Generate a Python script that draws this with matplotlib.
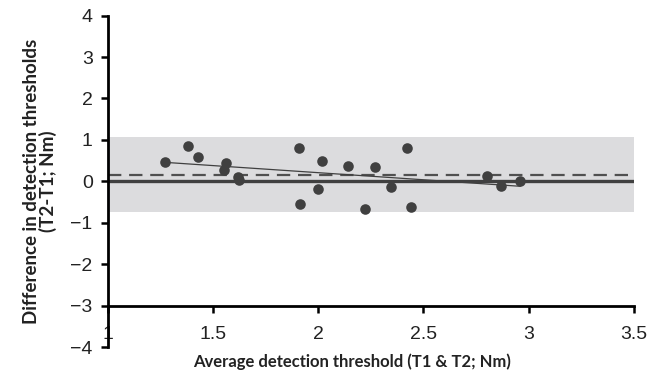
import numpy as np
import matplotlib
matplotlib.use("Agg")
import matplotlib.pyplot as plt

# Bland-Altman data
avg_threshold = [1.27, 1.38, 1.43, 1.55, 1.56, 1.62, 1.625, 1.91, 1.915, 2.0, 2.02,
                 2.14, 2.22, 2.27, 2.345, 2.42, 2.44, 2.80, 2.87, 2.96]
diff_threshold = [0.46, 0.85, 0.58, 0.27, 0.44, 0.10, 0.03, 0.80, -0.55, -0.18, 0.48,
                  0.37, -0.66, 0.35, -0.14, 0.81, -0.63, 0.13, -0.12, 0.0]

mean_diff = 0.16
upper_loa = 1.06
lower_loa = -0.75
trend_slope = -0.342
trend_intercept = 0.893

xticks = [1, 1.5, 2, 2.5, 3, 3.5]
xtick_labels = ["1", "1.5", "2", "2.5", "3", "3.5"]
yticks = [-4, -3, -2, -1, 0, 1, 2, 3, 4]

fig = plt.figure(figsize=(6.52, 3.73), dpi=100)
ax = fig.add_axes([0.1656, 0.0697, 0.8064, 0.8883])

ax.set_xlim(1, 3.5)
ax.set_ylim(-4, 4)

# limits of agreement band
ax.axhspan(lower_loa, upper_loa, xmin=0, xmax=1, color="#dcdcde", zorder=0, lw=0)
ax.axhline(0, color="#404040", lw=2.4, zorder=2)
ax.axhline(mean_diff, color="#505050", lw=1.6, dashes=(6, 3.5), zorder=2)

# regression line across data range
xs = np.array([min(avg_threshold), max(avg_threshold)])
ax.plot(xs, trend_intercept + trend_slope * xs, color="#404040", lw=0.9, zorder=3)

ax.scatter(avg_threshold, diff_threshold, s=58, color="#404040", zorder=4, lw=0)

for s in ["top", "right"]:
    ax.spines[s].set_visible(False)
ax.spines["bottom"].set_position(("data", -3))
ax.spines["bottom"].set_linewidth(2)
ax.spines["left"].set_linewidth(2)

ax.set_xticks(xticks)
ax.set_xticklabels(xtick_labels)
ax.set_yticks(yticks)
ax.set_yticklabels([str(v).replace("-", "\u2212") for v in yticks])
ax.tick_params(axis="x", length=5, width=1.8, pad=10, labelsize=14,
               labelcolor="#222222", labelfontfamily="Liberation Sans")
ax.tick_params(axis="y", length=5, width=1.8, pad=6, labelsize=14,
               labelcolor="#222222", labelfontfamily="Liberation Sans")

ax.set_xlabel("Average detection threshold (T1 & T2; Nm)", fontsize=12,
              fontweight="bold", family="Lato", color="#222222")
ax.xaxis.set_label_coords(0.465, -0.018)
ax.set_ylabel("Difference in detection thresholds\n(T2-T1; Nm)", fontsize=13.5,
              fontweight="bold", family="Lato", color="#222222",
              linespacing=0.9)
ax.yaxis.set_label_coords(-0.097, 0.5)

fig.savefig("out.png", dpi=100)
